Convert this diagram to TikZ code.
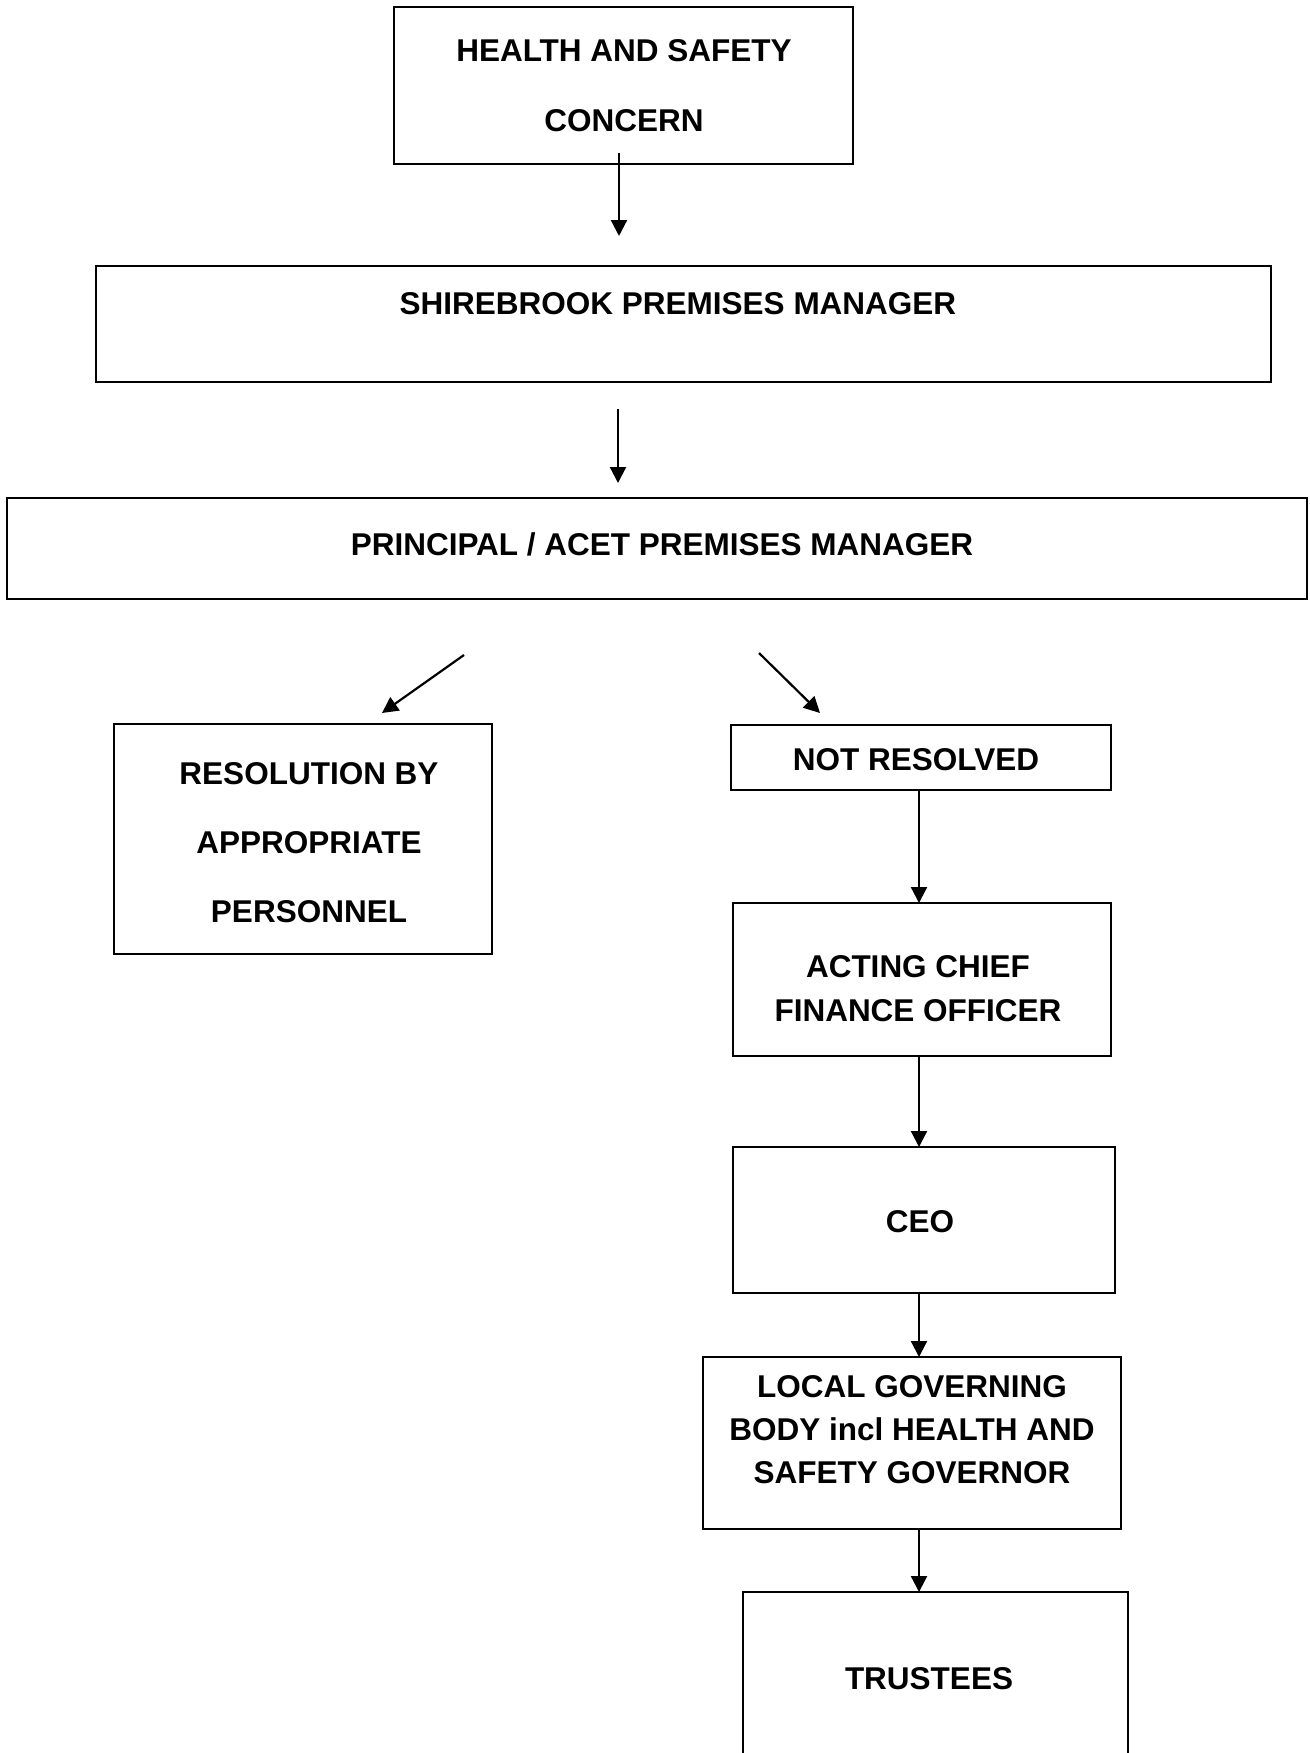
\documentclass[tikz,border=0pt]{standalone}
\usepackage{fontspec}
\setmainfont{Liberation Sans}
\usetikzlibrary{arrows.meta}
\begin{document}
\begin{tikzpicture}[x=1pt,y=-1pt,
  box/.style={draw,line width=2pt,rectangle,inner sep=0pt,outer sep=0pt},
  lbl/.style={inner sep=0pt,outer sep=0pt,align=center,anchor=north,
    font=\fontsize{31.5}{#1}\selectfont\bfseries},
  lbl/.default=37,
  arr/.style={line width=2.2pt,-{Triangle[width=16pt,length=16pt]}}]
\clip (0,0) rectangle (1309,1753);
\fill[white] (0,0) rectangle (1309,1753);
% boxes
\node[box,minimum width=459pt,minimum height=157pt] (b1) at (623.5,85.5) {};
\node[box,minimum width=1175pt,minimum height=116pt] (b2) at (683.5,324) {};
\node[box,minimum width=1300pt,minimum height=101pt] (b3) at (657,548.5) {};
\node[box,minimum width=378pt,minimum height=230pt] (res) at (303,839) {};
\node[box,minimum width=380pt,minimum height=65pt] (nr) at (921,757.5) {};
\node[box,minimum width=378pt,minimum height=153pt] (cfo) at (922,979.5) {};
\node[box,minimum width=382pt,minimum height=146pt] (ceo) at (924,1220) {};
\node[box,line width=1.4pt,minimum width=418pt,minimum height=172pt] (lgb) at (912,1443) {};
\node[box,minimum width=385pt,minimum height=190pt] (tr) at (935.5,1687) {};
% labels
\node[lbl=70] (t1) at (624,39.5) {HEALTH AND SAFETY\\CONCERN};
\node[lbl] (t2) at (678,292.5) {SHIREBROOK PREMISES MANAGER};
\node[lbl] (t3) at (662,532.5) {PRINCIPAL / ACET PREMISES MANAGER};
\node[lbl=69] (tres) at (309,762.5) {RESOLUTION BY\\APPROPRIATE\\PERSONNEL};
\node[lbl] (tnr) at (916,748.5) {NOT RESOLVED};
\node[lbl=44] (tcfo) at (918,955.5) {ACTING CHIEF\\FINANCE OFFICER};
\node[lbl] (tceo) at (920,1210.5) {CEO};
\node[lbl=43] (tlgb) at (912,1375.5) {LOCAL GOVERNING\\BODY incl HEALTH AND\\SAFETY GOVERNOR};
\node[lbl] (ttr) at (929,1667.5) {TRUSTEES};
% free connector ends
\coordinate (a1s) at (619,153);
\coordinate (a1e) at (619,236);
\coordinate (a2s) at (618,409);
\coordinate (a2e) at (618,483);
\coordinate (a3s) at (464,655);
\coordinate (a3e) at (382,713);
\coordinate (a4s) at (759,653);
\coordinate (a4e) at (820,713);
\coordinate (col) at (919,0);
% connectors
\draw[arr] (a1s) -- (a1e);
\draw[arr] (a2s) -- (a2e);
\draw[arr] (a3s) -- (a3e);
\draw[arr] (a4s) -- (a4e);
\draw[arr] (col |- nr.south) -- (col |- cfo.north);
\draw[arr] (col |- cfo.south) -- (col |- ceo.north);
\draw[arr] (col |- ceo.south) -- (col |- lgb.north);
\draw[arr] (col |- lgb.south) -- (col |- tr.north);
\end{tikzpicture}
\end{document}
